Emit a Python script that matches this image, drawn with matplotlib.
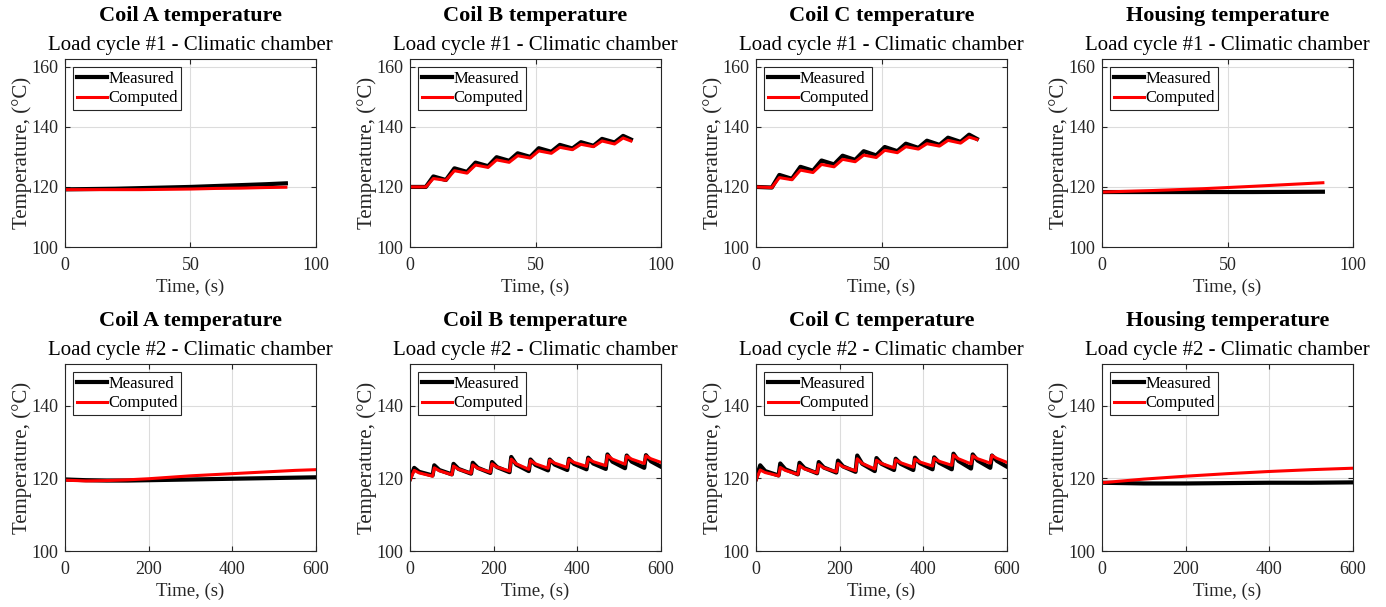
import matplotlib
matplotlib.use("Agg")
import matplotlib.pyplot as plt
from matplotlib.transforms import offset_copy

plt.rcParams['font.family'] = ['Liberation Serif', 'DejaVu Serif']

# ---------------- data ----------------
titles = ["Coil A temperature", "Coil B temperature", "Coil C temperature", "Housing temperature"]
subtitles = ["Load cycle #1 - Climatic chamber", "Load cycle #2 - Climatic chamber"]
legend_labels = ["Measured", "Computed"]

# Load cycle #1 (top row)
a1_t = [0, 10, 20, 30, 40, 50, 60, 70, 80, 88]
a1_meas = [119.2, 119.3, 119.4, 119.6, 119.8, 120.0, 120.3, 120.6, 120.9, 121.2]
a1_comp = [119.1, 119.1, 119.1, 119.1, 119.2, 119.3, 119.5, 119.6, 119.8, 119.9]

bc1_t = [0, 6.3, 9.3, 14.3, 17.7, 22.7, 26.1, 31.1, 34.5, 39.5, 42.9, 47.9,
         51.3, 56.3, 59.7, 64.7, 68.1, 73.1, 76.5, 81.5, 84.9, 88]
b1_meas = [120.0, 120.0, 123.5, 122.3, 126.2, 125.0, 128.1, 126.9, 129.9, 128.7, 131.2, 130.0,
           132.9, 131.7, 134.0, 132.8, 134.9, 133.7, 136.0, 134.8, 137.0, 135.8]
b1_comp = [120.0, 120.0, 122.8, 122.2, 125.4, 124.6, 127.3, 126.5, 129.0, 128.2, 130.4, 129.6,
           132.0, 131.2, 133.2, 132.4, 134.2, 133.4, 135.3, 134.3, 136.3, 135.3]
c1_meas = [120.0, 119.8, 124.0, 122.7, 126.7, 125.4, 128.8, 127.5, 130.4, 129.0, 131.9, 130.5,
           133.3, 131.9, 134.4, 133.0, 135.4, 134.0, 136.4, 135.0, 137.4, 136.0]
c1_comp = [120.0, 119.8, 123.1, 122.4, 125.6, 124.8, 127.5, 126.7, 129.2, 128.4, 130.6, 129.8,
           132.2, 131.4, 133.4, 132.6, 134.4, 133.6, 135.5, 134.6, 136.6, 135.8]

h1_t = [0, 20, 40, 60, 88]
h1_meas = [118.3, 118.3, 118.3, 118.3, 118.4]
h1_comp = [118.3, 118.8, 119.4, 120.2, 121.4]

# Load cycle #2 (bottom row)
a2_t = [0, 50, 100, 150, 200, 250, 300, 350, 400, 450, 500, 550, 600]
a2_meas = [119.7, 119.5, 119.4, 119.4, 119.5, 119.6, 119.7, 119.8, 119.9, 120.0, 120.1, 120.2, 120.3]
a2_comp = [119.5, 119.3, 119.4, 119.6, 119.9, 120.3, 120.7, 121.0, 121.3, 121.6, 121.9, 122.2, 122.4]

bc2_t = [0, 10, 22, 54, 58, 70, 100, 104, 116, 146, 150, 162, 192, 196, 208, 238,
         242, 254, 284, 288, 300, 330, 334, 346, 376, 380, 392, 422, 426, 438, 468,
         472, 484, 514, 518, 530, 560, 564, 576, 600]
b2_meas = [119.8, 122.9, 121.8, 120.8, 123.6, 122.3, 121.1, 124.0, 122.6, 121.3, 124.3, 122.9, 121.5,
           124.5, 123.1, 121.7, 125.9, 123.8, 122.0, 125.2, 123.7, 122.2, 125.2, 123.8, 122.3,
           125.4, 124.0, 122.5, 125.7, 124.1, 122.6, 126.6, 124.6, 122.8, 126.3, 124.6, 122.9,
           126.4, 124.7, 123.2]
b2_comp = [119.5, 122.2, 121.5, 120.6, 122.9, 122.1, 121.0, 123.4, 122.5, 121.4, 123.7, 122.8, 121.7,
           124.0, 123.1, 122.0, 125.3, 124.0, 122.5, 124.9, 124.0, 122.8, 125.0, 124.2, 123.0,
           125.2, 124.4, 123.3, 125.4, 124.6, 123.5, 126.3, 125.3, 123.9, 126.1, 125.3, 124.1,
           126.2, 125.4, 124.4]
c2_meas = [119.8, 123.6, 122.0, 120.8, 124.1, 122.5, 121.1, 124.3, 122.8, 121.4, 124.5, 123.0, 121.6,
           124.9, 123.3, 121.8, 126.3, 124.0, 122.0, 125.6, 124.0, 122.3, 125.4, 124.0, 122.3,
           125.7, 124.2, 122.5, 125.8, 124.3, 122.5, 126.8, 124.8, 122.7, 126.6, 124.9, 122.9,
           126.3, 124.8, 123.2]
c2_comp = [119.5, 122.3, 121.6, 120.7, 123.0, 122.2, 121.1, 123.5, 122.6, 121.5, 123.8, 122.9, 121.8,
           124.1, 123.2, 122.1, 125.4, 124.1, 122.6, 125.0, 124.1, 122.9, 125.1, 124.3, 123.1,
           125.3, 124.5, 123.4, 125.5, 124.7, 123.6, 126.4, 125.4, 124.0, 126.2, 125.4, 124.2,
           126.3, 125.5, 124.4]

h2_t = [0, 100, 200, 300, 400, 500, 600]
h2_meas = [118.8, 118.6, 118.6, 118.7, 118.8, 118.8, 118.9]
h2_comp = [118.8, 119.8, 120.6, 121.3, 121.9, 122.4, 122.8]

row1 = [(a1_t, a1_meas, a1_comp), (bc1_t, b1_meas, b1_comp), (bc1_t, c1_meas, c1_comp), (h1_t, h1_meas, h1_comp)]
row2 = [(a2_t, a2_meas, a2_comp), (bc2_t, b2_meas, b2_comp), (bc2_t, c2_meas, c2_comp), (h2_t, h2_meas, h2_comp)]

xlim1, xticks1 = (0, 100), [0, 50, 100]
xlim2, xticks2 = (0, 600), [0, 200, 400, 600]
ylim1, yticks1 = (100, 162.6), [100, 120, 140, 160]
ylim2, yticks2 = (100, 151.5), [100, 120, 140]

# ---------------- figure ----------------
W, H = 1386, 607
DPI = 100
fig = plt.figure(figsize=(W / DPI, H / DPI), dpi=DPI)
fig.patch.set_facecolor('white')

lefts = [65, 410, 756, 1102]
width = 251
rows = [(59, 247), (364, 551)]
dark = '#262626'


def px(ax, dx, dy):
    # offset in pixels -> points
    return offset_copy(ax.transAxes, fig=fig, x=dx * 72 / DPI, y=dy * 72 / DPI, units='points')


for r, (rowdata, xlim, xticks, ylim, yticks) in enumerate(
        [(row1, xlim1, xticks1, ylim1, yticks1), (row2, xlim2, xticks2, ylim2, yticks2)]):
    top, bot = rows[r]
    for c, (t, meas, comp) in enumerate(rowdata):
        ax = fig.add_axes([lefts[c] / W, (H - bot) / H, width / W, (bot - top) / H])
        ax.plot(t, meas, color='black', lw=3.0, label=legend_labels[0], solid_joinstyle='round')
        ax.plot(t, comp, color='#ff0000', lw=2.2, label=legend_labels[1], solid_joinstyle='round')
        ax.set_xlim(*xlim)
        ax.set_ylim(*ylim)
        ax.set_xticks(xticks)
        ax.set_yticks(yticks)
        ax.grid(True, color='#dcdcdc', lw=0.8)
        ax.set_axisbelow(True)
        ax.tick_params(direction='in', top=True, right=True, length=3.5, width=0.8,
                       labelsize=13, colors=dark, labelcolor=dark)
        ax.tick_params(axis='y', pad=5)
        ax.tick_params(axis='x', pad=7)
        for s in ax.spines.values():
            s.set_color(dark)
            s.set_linewidth(0.8)
        ax.text(0.5, 1.0, titles[c], transform=px(ax, 0, 43), ha='center', va='center',
                fontsize=16, fontweight='bold', color='black')
        ax.text(0.5, 1.0, subtitles[r], transform=px(ax, 0, 14), ha='center', va='center',
                fontsize=15, color='black')
        ax.text(0.5, 0.0, "Time, (s)", transform=px(ax, 0, -40), ha='center', va='center',
                fontsize=13.5, color=dark)
        ax.text(0.0, 0.5, "Temperature, (°C)", transform=px(ax, -43, 0), ha='center', va='center',
                rotation=90, fontsize=15, color=dark)
        leg = ax.legend(loc='upper left', bbox_to_anchor=(0.0, 1.0), fontsize=12, frameon=True,
                        fancybox=False, edgecolor=dark, framealpha=1.0, borderpad=0.2,
                        handlelength=1.8, handletextpad=0.1, labelspacing=0.22,
                        borderaxespad=0.5)
        leg.get_frame().set_linewidth(0.8)

fig.savefig("out.png", dpi=DPI, facecolor='white')
